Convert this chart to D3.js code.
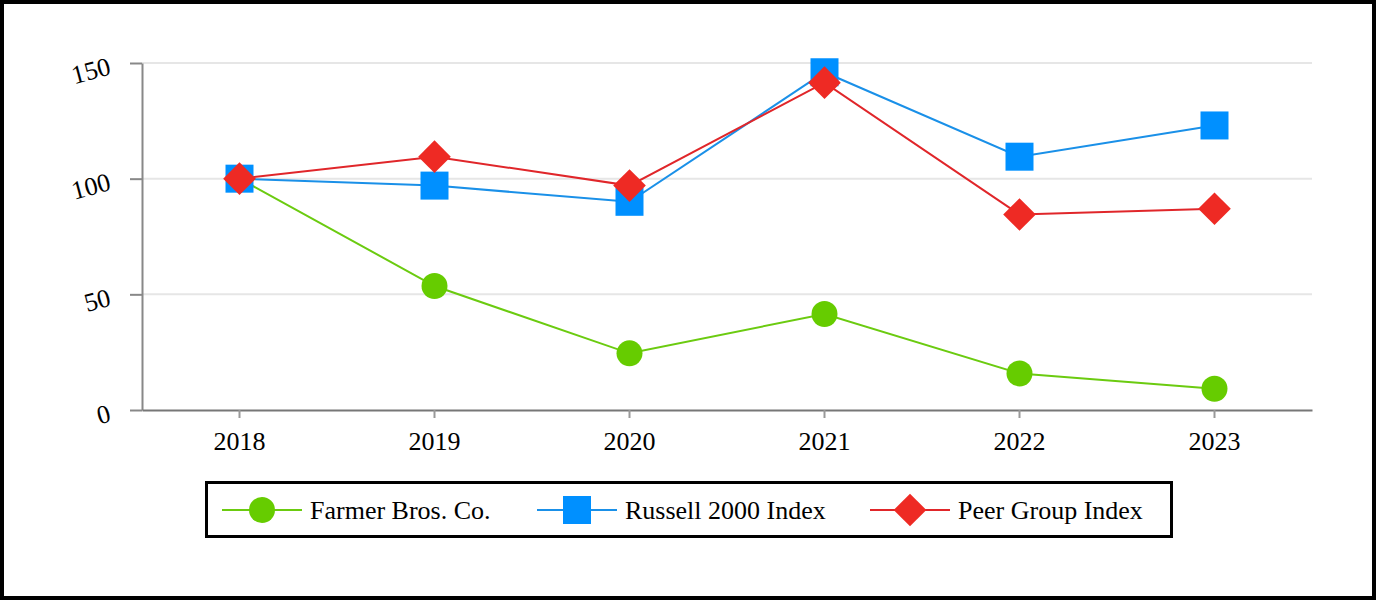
<!DOCTYPE html>
<html>
<head>
<meta charset="utf-8">
<script src="https://cdn.jsdelivr.net/npm/d3@7"></script>
<style>
  body { margin: 0; background: #fff; }
  text { font-family: "Liberation Serif", "Times New Roman", serif; fill: #000; }
</style>
</head>
<body>
<svg id="chart"></svg>
<script>
// data
const years = ['2018', '2019', '2020', '2021', '2022', '2023'];
const farmer = [100, 53.6, 24.5, 41.5, 15.8, 9.2];
const russell = [100, 97, 90, 146, 109.5, 123];
const peer = [100, 109.5, 97, 141.5, 84.5, 87];
const yTicks = [0, 50, 100, 150];
const seriesNames = ['Farmer Bros. Co.', 'Russell 2000 Index', 'Peer Group Index'];

const W = 1376, H = 600;
const margin = {top: 63, right: 64, bottom: 190, left: 142};

const svg = d3.select('#chart').attr('width', W).attr('height', H);

// outer frame
svg.append('rect')
    .attr('x', 2).attr('y', 2)
    .attr('width', W - 4).attr('height', H - 4)
    .attr('fill', '#fff').attr('stroke', '#000').attr('stroke-width', 4);

const xScale = d3.scaleBand()
    .domain(years)
    .range([margin.left, W - margin.right]);

const yScale = d3.scaleLinear()
    .domain([0, 150])
    .range([H - margin.bottom, margin.top]);

// gridlines
svg.append('g')
    .selectAll('line')
    .data(yTicks.filter(d => d > 0))
    .join('line')
    .attr('x1', margin.left).attr('x2', W - margin.right)
    .attr('y1', d => yScale(d)).attr('y2', d => yScale(d))
    .attr('stroke', '#e6e6e6').attr('stroke-width', 2);

// y axis
const yAxisG = svg.append('g')
    .attr('transform', `translate(${margin.left},0)`)
    .call(d3.axisLeft(yScale).tickValues(yTicks).tickSize(12).tickSizeOuter(0));
yAxisG.select('.domain').attr('stroke', '#888').attr('stroke-width', 2);
yAxisG.selectAll('.tick line').attr('stroke', '#888').attr('stroke-width', 2);
yAxisG.selectAll('.tick text')
    .attr('font-size', 26)
    .attr('font-family', '"Liberation Serif", serif')
    .attr('fill', '#000')
    .attr('x', 0)
    .attr('dy', '0.3em')
    .attr('transform', 'translate(-32,3) rotate(-15)');

// x axis
const xAxisG = svg.append('g')
    .attr('transform', `translate(0,${H - margin.bottom})`)
    .call(d3.axisBottom(xScale).tickSize(8).tickSizeOuter(0).tickPadding(14));
xAxisG.select('.domain').attr('stroke', '#777').attr('stroke-width', 2);
xAxisG.selectAll('.tick line').attr('stroke', '#999').attr('stroke-width', 2);
xAxisG.selectAll('.tick text')
    .attr('font-size', 26)
    .attr('font-family', '"Liberation Serif", serif')
    .attr('fill', '#000');

const cx = (d, i) => xScale(years[i]) + xScale.bandwidth() / 2;

const series = [
  {name: seriesNames[0], values: farmer, line: '#6bcb10', fill: '#66cc00', shape: d3.symbolCircle, size: 530},
  {name: seriesNames[1], values: russell, line: '#1a90e8', fill: '#0090ff', shape: d3.symbolSquare, size: 784},
  {name: seriesNames[2], values: peer, line: '#e0262a', fill: '#ee2a24', shape: d3.symbolDiamond2, size: 680}
];

const line = d3.line()
    .x(cx)
    .y(d => yScale(d));

series.forEach(s => {
  svg.append('path')
      .datum(s.values)
      .attr('d', line)
      .attr('fill', 'none')
      .attr('stroke', s.line)
      .attr('stroke-width', 2);
});

series.forEach(s => {
  svg.append('g')
    .selectAll('path')
    .data(s.values)
    .join('path')
      .attr('transform', (d, i) => `translate(${cx(d, i)},${yScale(d)})`)
      .attr('d', d3.symbol().type(s.shape).size(s.size))
      .attr('fill', s.fill);
});

// legend
const legend = svg.append('g');
legend.append('rect')
    .attr('x', 206.5).attr('y', 482.5)
    .attr('width', 965).attr('height', 54)
    .attr('fill', '#fff').attr('stroke', '#000').attr('stroke-width', 3);

const legendX = [222, 537, 870];
series.forEach((s, i) => {
  const g = legend.append('g').attr('transform', `translate(${legendX[i]},510)`);
  g.append('line')
      .attr('x1', 0).attr('x2', 80)
      .attr('stroke', s.line).attr('stroke-width', 2);
  g.append('path')
      .attr('transform', 'translate(40,0)')
      .attr('d', d3.symbol().type(s.shape).size(s.size))
      .attr('fill', s.fill);
  g.append('text')
      .attr('x', 88)
      .attr('y', 9)
      .attr('font-size', 26)
      .text(s.name);
});
</script>
</body>
</html>
